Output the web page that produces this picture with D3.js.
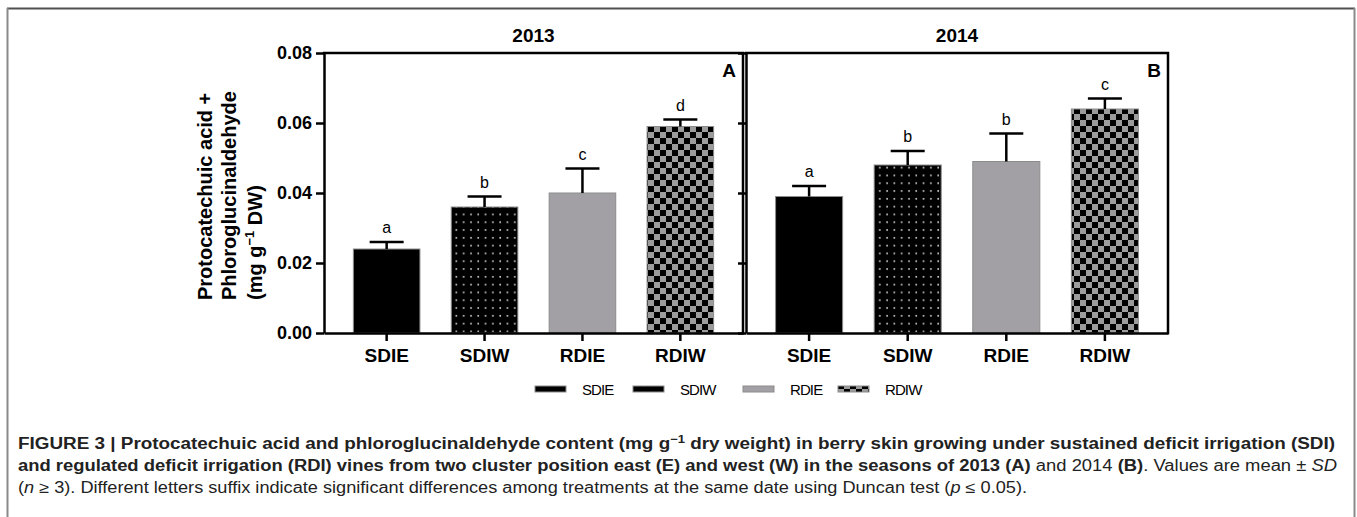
<!DOCTYPE html>
<html>
<head>
<meta charset="utf-8">
<script src="https://cdn.jsdelivr.net/npm/d3@7"></script>
<style>
body { margin: 0; background: #fff; }
svg { display: block; font-family: "Liberation Sans", Arial, sans-serif; }
</style>
</head>
<body>
<svg id="chart" width="1357" height="517"></svg>
<script>
// values (mg g-1 DW)
var categories = ["SDIE", "SDIW", "RDIE", "RDIW"];
var years = ["2013", "2014"];
var panelLabels = ["A", "B"];
var mean2013 = [0.024, 0.036, 0.040, 0.059];
var sd2013 = [0.002, 0.003, 0.007, 0.002];
var letters2013 = ["a", "b", "c", "d"];
var mean2014 = [0.039, 0.048, 0.049, 0.064];
var sd2014 = [0.003, 0.004, 0.008, 0.003];
var letters2014 = ["a", "b", "b", "c"];
var yTicks = [0, 0.02, 0.04, 0.06, 0.08];

var svg = d3.select("#chart");

// outer figure frame
svg.append("line").attr("x1", 7).attr("x2", 1355).attr("y1", 8.5).attr("y2", 8.5)
  .attr("stroke", "#505050").attr("stroke-width", 2);
svg.append("line").attr("x1", 7.5).attr("x2", 7.5).attr("y1", 8).attr("y2", 517)
  .attr("stroke", "#8a8a8a").attr("stroke-width", 2);
svg.append("line").attr("x1", 1354.5).attr("x2", 1354.5).attr("y1", 8).attr("y2", 517)
  .attr("stroke", "#8a8a8a").attr("stroke-width", 2);

// fill patterns
var defs = svg.append("defs");
var dots = defs.append("pattern").attr("id", "dots").attr("patternUnits", "userSpaceOnUse")
  .attr("width", 7.3).attr("height", 7.8);
dots.append("rect").attr("width", 7.3).attr("height", 7.8).attr("fill", "#000");
dots.append("rect").attr("x", 3).attr("y", 3).attr("width", 1.6).attr("height", 1.6).attr("fill", "#d8d8d8");

var checker = defs.append("pattern").attr("id", "checker").attr("patternUnits", "userSpaceOnUse")
  .attr("width", 12).attr("height", 12);
checker.append("rect").attr("width", 12).attr("height", 12).attr("fill", "#000");
checker.append("rect").attr("width", 6).attr("height", 6).attr("fill", "#9c9c9c");
checker.append("rect").attr("x", 6).attr("y", 6).attr("width", 6).attr("height", 6).attr("fill", "#9c9c9c");

var fill = d3.scaleOrdinal().domain(categories)
  .range(["#000", "url(#dots)", "#a2a0a5", "url(#checker)"]);

var y = d3.scaleLinear().domain([0, 0.08]).range([333, 53]);

var panels = [
  {x0: 324, x1: 743, mean: mean2013, sd: sd2013, letters: letters2013, year: years[0], label: panelLabels[0], first: true},
  {x0: 746, x1: 1168, mean: mean2014, sd: sd2014, letters: letters2014, year: years[1], label: panelLabels[1], first: false}
];

panels.forEach(function(p) {
  var x = d3.scaleBand().domain(categories).range([p.x0, p.x1])
    .paddingInner(0.32).paddingOuter(0.3);
  var rows = categories.map(function(c, i) {
    return {cat: c, mean: p.mean[i], sd: p.sd[i], letter: p.letters[i]};
  });
  var g = svg.append("g");

  g.selectAll("rect.bar").data(rows).enter().append("rect")
    .attr("class", "bar")
    .attr("x", function(d) { return x(d.cat); })
    .attr("y", function(d) { return y(d.mean); })
    .attr("width", x.bandwidth())
    .attr("height", function(d) { return y(0) - y(d.mean); })
    .attr("fill", function(d) { return fill(d.cat); })
    .attr("stroke", "#8c8c8c").attr("stroke-width", 1);

  var cx = function(d) { return x(d.cat) + x.bandwidth() / 2; };
  g.selectAll("line.err").data(rows).enter().append("line")
    .attr("x1", cx).attr("x2", cx)
    .attr("y1", function(d) { return y(d.mean); })
    .attr("y2", function(d) { return y(d.mean + d.sd); })
    .attr("stroke", "#000").attr("stroke-width", 2.5);
  g.selectAll("line.cap").data(rows).enter().append("line")
    .attr("x1", function(d) { return cx(d) - 17; })
    .attr("x2", function(d) { return cx(d) + 17; })
    .attr("y1", function(d) { return y(d.mean + d.sd); })
    .attr("y2", function(d) { return y(d.mean + d.sd); })
    .attr("stroke", "#000").attr("stroke-width", 2.5);
  g.selectAll("text.letter").data(rows).enter().append("text")
    .attr("x", cx)
    .attr("y", function(d) { return y(d.mean + d.sd) - 9; })
    .attr("text-anchor", "middle")
    .style("font-size", "16px")
    .text(function(d) { return d.letter; });

  // frame top and right
  g.append("path")
    .attr("d", "M" + p.x0 + "," + y(0.08) + "H" + p.x1 + "V" + y(0))
    .attr("fill", "none").attr("stroke", "#000").attr("stroke-width", 2.5)
    .attr("stroke-linecap", "square");

  var yAxis = d3.axisLeft(y).tickValues(yTicks).tickSize(8).tickSizeOuter(0).tickPadding(4)
    .tickFormat(p.first ? d3.format(".2f") : "");
  var ya = g.append("g").attr("transform", "translate(" + p.x0 + ",0)").call(yAxis);
  ya.selectAll("path, line").attr("stroke", "#000").attr("stroke-width", 2.5);
  ya.selectAll("text").style("font-size", "18px").style("font-weight", "bold").attr("fill", "#000");

  var xAxis = d3.axisBottom(x).tickSize(8).tickSizeOuter(0).tickPadding(8);
  var xa = g.append("g").attr("transform", "translate(0," + y(0) + ")").call(xAxis);
  xa.selectAll("path, line").attr("stroke", "#000").attr("stroke-width", 2.5);
  xa.selectAll("text").style("font-size", "19px").style("font-weight", "bold").attr("fill", "#000");

  g.append("text").attr("x", (p.x0 + p.x1) / 2).attr("y", 42)
    .attr("text-anchor", "middle").style("font-size", "19px").style("font-weight", "bold")
    .text(p.year);
  g.append("text").attr("x", p.x1 - 7).attr("y", 77)
    .attr("text-anchor", "end").style("font-size", "19px").style("font-weight", "bold")
    .text(p.label);
});

// y axis title
var yTitle = [
  {x: 212, parts: [["Protocatechuic acid +"]]},
  {x: 236, parts: [["Phloroglucinaldehyde"]]},
  {x: 262, parts: [["(mg g"], ["−1", "sup"], [" DW)"]]}
];
yTitle.forEach(function(l) {
  var t = svg.append("text")
    .attr("transform", "translate(" + l.x + ",300) rotate(-90)")
    .style("font-size", "20px").style("font-weight", "bold");
  var raised = false;
  l.parts.forEach(function(pt) {
    var s = t.append("tspan").text(pt[0]);
    if (pt[1] === "sup") { s.attr("dy", -8).style("font-size", "13px"); raised = true; }
    else if (raised) { s.attr("dy", 8); raised = false; }
  });
});

// legend
var legendX = d3.scaleOrdinal().domain(categories).range([535, 633, 743, 838]);
var lg = svg.append("g").selectAll("g").data(categories).enter().append("g")
  .attr("transform", function(d) { return "translate(" + legendX(d) + ",389)"; });
lg.append("rect").attr("x", 0).attr("y", -3).attr("width", 31).attr("height", 6)
  .attr("fill", function(d) { return fill(d); })
  .attr("stroke", "#8c8c8c").attr("stroke-width", 1);
lg.append("text").attr("x", 47).attr("y", 5.5)
  .style("font-size", "15px").style("letter-spacing", "-0.9px")
  .text(function(d) { return d; });

// caption
var caption = [
  {y: 449, len: 1317, parts: [
    ["FIGURE 3 | Protocatechuic acid and phloroglucinaldehyde content (mg g", "b"],
    ["−1", "bsup"],
    [" dry weight) in berry skin growing under sustained deficit irrigation (SDI)", "b"]]},
  {y: 471, len: 1319, parts: [
    ["and regulated deficit irrigation (RDI) vines from two cluster position east (E) and west (W) in the seasons of 2013 (A)", "b"],
    [" and 2014 ", "r"], ["(B)", "b"], [". Values are mean ± ", "r"], ["SD", "i"]]},
  {y: 493, len: 1009, parts: [
    ["(", "r"], ["n", "i"], [" ≥ 3). Different letters suffix indicate significant differences among treatments at the same date using Duncan test (", "r"],
    ["p", "i"], [" ≤ 0.05).", "r"]]}
];
caption.forEach(function(c) {
  var t = svg.append("text").attr("x", 18).attr("y", c.y)
    .attr("textLength", c.len).attr("lengthAdjust", "spacingAndGlyphs")
    .style("font-size", "16px").attr("fill", "#222");
  var raised = false;
  c.parts.forEach(function(pt) {
    var s = t.append("tspan").text(pt[0]);
    if (pt[1].charAt(0) === "b") s.style("font-weight", "bold");
    if (pt[1] === "i") s.style("font-style", "italic");
    if (pt[1] === "bsup") { s.attr("dy", -6).style("font-size", "11px"); raised = true; }
    else if (raised) { s.attr("dy", 6); raised = false; }
  });
});
</script>
</body>
</html>
